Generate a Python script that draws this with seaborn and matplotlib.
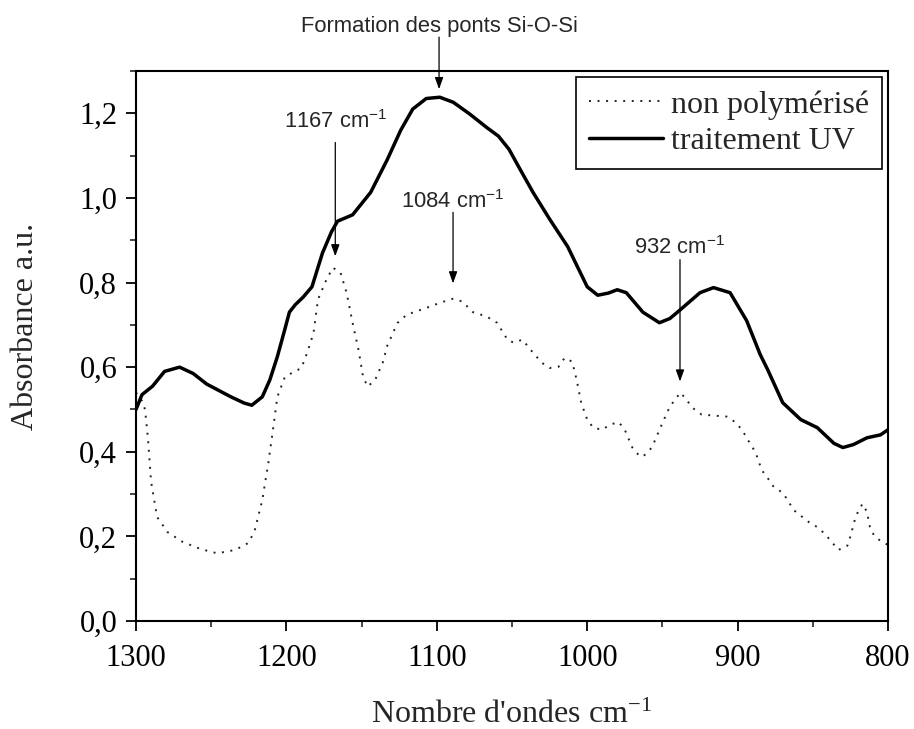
import numpy as np
import pandas as pd
import matplotlib
matplotlib.use("Agg")
import matplotlib.pyplot as plt
import seaborn as sns
from matplotlib.ticker import MultipleLocator, FuncFormatter

# ---- data ----
uv_x = [1300, 1296, 1289, 1281, 1271, 1262, 1253, 1245, 1237, 1228, 1223, 1216, 1211,
        1206, 1201, 1198, 1194, 1189, 1183, 1176, 1170, 1166, 1156, 1144, 1133, 1124,
        1116, 1107, 1098, 1089, 1078, 1067, 1059, 1052, 1045, 1036, 1025, 1013, 1000,
        993, 986, 980, 974, 963, 952, 945, 938, 925, 916, 905, 894, 885, 880, 870, 858,
        847, 836, 830, 823, 814, 805, 800]
uv_y = [0.50, 0.535, 0.555, 0.59, 0.60, 0.585, 0.56, 0.545, 0.53, 0.515, 0.51, 0.53, 0.57,
        0.625, 0.69, 0.73, 0.748, 0.765, 0.79, 0.87, 0.92, 0.945, 0.96, 1.013, 1.09, 1.16,
        1.21, 1.235, 1.238, 1.226, 1.198, 1.167, 1.146, 1.115, 1.07, 1.013, 0.95, 0.885, 0.79,
        0.77, 0.775, 0.783, 0.776, 0.73, 0.705, 0.715, 0.736, 0.776, 0.788, 0.776, 0.71, 0.63,
        0.594, 0.516, 0.476, 0.457, 0.42, 0.41, 0.417, 0.433, 0.44, 0.452]

np_x = [1300, 1296, 1294, 1292, 1290, 1286, 1279, 1269, 1257, 1246, 1234, 1225, 1221, 1216,
        1212, 1209, 1206, 1201, 1196, 1190, 1186, 1182, 1179, 1173, 1169, 1164, 1160, 1156,
        1152, 1149, 1146, 1141, 1136, 1133, 1128, 1126, 1120, 1107, 1098, 1089, 1083, 1076,
        1067, 1060, 1053, 1049, 1043, 1036, 1030, 1025, 1019, 1015, 1010, 1007, 1004, 1000,
        996, 990, 985, 979, 975, 970, 966, 963, 957, 950, 945, 938, 934, 930, 924, 914, 907,
        902, 897, 894, 888, 884, 880, 876, 870, 866, 863, 857, 852, 847, 842, 837, 833, 827,
        825, 822, 820, 817, 814, 812, 809, 804, 800]
np_y = [0.54, 0.52, 0.50, 0.43, 0.33, 0.246, 0.21, 0.187, 0.17, 0.16, 0.168, 0.185, 0.215,
        0.286, 0.374, 0.45, 0.53, 0.577, 0.587, 0.598, 0.636, 0.68, 0.76, 0.81, 0.835, 0.823,
        0.776, 0.705, 0.64, 0.577, 0.554, 0.57, 0.61, 0.65, 0.69, 0.705, 0.724, 0.74, 0.752,
        0.762, 0.755, 0.73, 0.72, 0.705, 0.665, 0.658, 0.665, 0.634, 0.61, 0.598, 0.601,
        0.622, 0.613, 0.57, 0.516, 0.476, 0.457, 0.452, 0.464, 0.47, 0.452, 0.41, 0.393,
        0.388, 0.41, 0.468, 0.507, 0.54, 0.523, 0.504, 0.488, 0.485, 0.483, 0.471, 0.452,
        0.433, 0.398, 0.357, 0.338, 0.317, 0.303, 0.282, 0.263, 0.246, 0.232, 0.222, 0.206,
        0.185, 0.168, 0.178, 0.2, 0.24, 0.258, 0.277, 0.258, 0.222, 0.2, 0.187, 0.18]

series_labels = ["non polymérisé", "traitement UV"]

# annotations: (text, x, text_y, arrow_start_y, arrow_tip_y)
ann_text = ["Formation des ponts Si-O-Si", "1167 cm$^{-1}$", "1084 cm$^{-1}$", "932 cm$^{-1}$"]
ann_x = [1098.5, 1167.5, 1089.2, 938.3]
ann_text_y = [1.406, 1.181, 0.992, 0.883]
ann_start_y = [1.380, 1.131, 0.966, 0.854]
ann_tip_y = [1.257, 0.862, 0.798, 0.566]

xticks = [1300, 1200, 1100, 1000, 900, 800]

# ---- styling ----
sns.set_style("ticks")
plt.rcParams['font.family'] = ['Liberation Serif', 'DejaVu Serif']
plt.rcParams['mathtext.default'] = 'regular'

fig = plt.figure(figsize=(9.14, 7.29), dpi=100)
ax = fig.add_axes([136/914, 1 - 621/729, (888-136)/914, (621-71)/729])

df_np = pd.DataFrame({"x": np_x, "y": np_y})
df_uv = pd.DataFrame({"x": uv_x, "y": uv_y})

sns.lineplot(data=df_np, x="x", y="y", ax=ax, color="#222222", lw=1.4,
             linestyle=(0, (1, 3.4)), label=series_labels[0], sort=False)
sns.lineplot(data=df_uv, x="x", y="y", ax=ax, color="black", lw=2.5,
             label=series_labels[1], sort=False)

ax.set_xlim(1300, 800)
ax.set_ylim(0, 1.3)
ax.set_xticks(xticks)
ax.xaxis.set_minor_locator(MultipleLocator(50))
ax.yaxis.set_major_locator(MultipleLocator(0.2))
ax.yaxis.set_minor_locator(MultipleLocator(0.1))
ax.yaxis.set_major_formatter(FuncFormatter(lambda v, p: f"{v:.1f}".replace(".", ",")))

for s in ax.spines.values():
    s.set_linewidth(1.5)
    s.set_color("black")
    s.set_visible(True)
ax.tick_params(which="major", direction="out", length=7.5, width=1.3,
               labelsize=22, pad=6, top=False, right=False, colors="black")
ax.tick_params(axis="x", which="major", pad=9)
ax.tick_params(which="minor", direction="out", length=4, width=1.2, top=False, right=False)

ax.set_xlabel("Nombre d'ondes cm$^{-1}$", fontsize=23)
ax.set_ylabel("Absorbance a.u.", fontsize=23)
ax.xaxis.set_label_coords(0.5, -0.145)
ax.yaxis.set_label_coords(-0.128, 0.535)

for t, x, ty, sy, tipy in zip(ann_text, ann_x, ann_text_y, ann_start_y, ann_tip_y):
    ax.text(x, ty, t, ha="center", va="center", fontsize=15.8,
            family=["Liberation Sans", "DejaVu Sans"], clip_on=False)
    ax.annotate("", xy=(x, tipy), xytext=(x, sy), annotation_clip=False,
                arrowprops=dict(arrowstyle="-|>,head_length=0.5,head_width=0.18",
                                mutation_scale=14, color="black", lw=0.9,
                                shrinkA=0, shrinkB=0))

leg = ax.legend(loc="upper right", fontsize=23, frameon=True, fancybox=False,
                edgecolor="black", framealpha=1, handlelength=2.3, handletextpad=0.25,
                borderaxespad=0.2, borderpad=0.4, labelspacing=0.22)
leg.get_frame().set_linewidth(1.2)

fig.savefig("out.png", dpi=100)
